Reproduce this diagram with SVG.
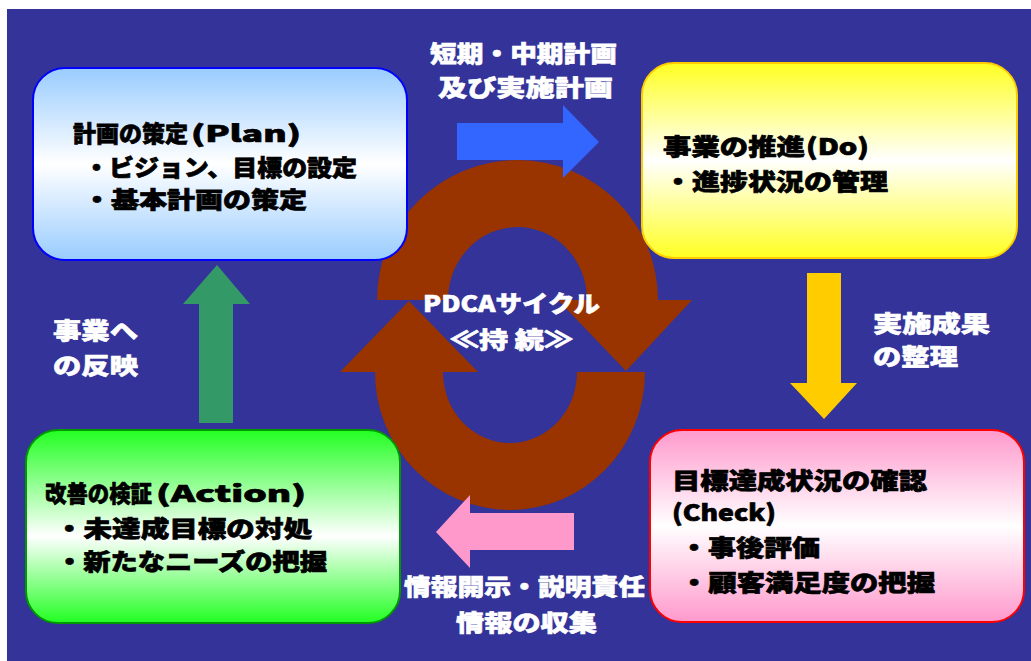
<svg xmlns="http://www.w3.org/2000/svg" width="1031" height="661" viewBox="0 0 1031 661">
<defs>
  <linearGradient id="gPlan" x1="0" y1="0" x2="0" y2="1">
    <stop offset="0" stop-color="#99ccff"/><stop offset="0.5" stop-color="#ffffff"/><stop offset="1" stop-color="#99ccff"/>
  </linearGradient>
  <linearGradient id="gDo" x1="0" y1="0" x2="0" y2="1">
    <stop offset="0" stop-color="#ffff22"/><stop offset="0.5" stop-color="#ffffff"/><stop offset="1" stop-color="#ffff22"/>
  </linearGradient>
  <linearGradient id="gCheck" x1="0" y1="0" x2="0" y2="1">
    <stop offset="0" stop-color="#ff99cc"/><stop offset="0.5" stop-color="#ffffff"/><stop offset="1" stop-color="#ff99cc"/>
  </linearGradient>
  <linearGradient id="gAct" x1="0" y1="0" x2="0" y2="1">
    <stop offset="0" stop-color="#22ff22"/><stop offset="0.55" stop-color="#ffffff"/><stop offset="1" stop-color="#22ff22"/>
  </linearGradient>
</defs>
<style>
  .bt{font-family:"Noto Sans CJK JP","Noto Sans CJK SC",sans-serif;font-weight:900;font-size:23px;fill:#000;stroke:#000;stroke-width:0.7}
  .lb{font-family:"Noto Sans CJK JP","Noto Sans CJK SC",sans-serif;font-weight:900;font-size:23px;fill:#fff;stroke:#fff;stroke-width:0.6}
  .box{stroke-width:2}
  .cyc{fill:#993300}
</style>
<rect x="0" y="0" width="1031" height="661" fill="#ffffff"/>
<rect x="7" y="9" width="1024" height="652" fill="#333399"/>

<g id="cycle">
  <path class="cyc" d="M377,300 A140.5,140 0 0 1 658,300 L587,300 A69.5,73 0 0 0 448,300 Z"/>
  <path class="cyc" d="M558,300 L692,300 L626,371 Z"/>
  <path class="cyc" d="M375,372 A135,138 0 0 0 645,372 L577,372 A67,71 0 0 1 443,372 Z"/>
  <path class="cyc" d="M340,372 L478,372 L409,301 Z"/>
  <text class="lb" x="423" y="312" textLength="177" lengthAdjust="spacingAndGlyphs">PDCAサイクル</text>
  <text class="lb" x="450" y="348" textLength="123" lengthAdjust="spacingAndGlyphs">≪持 続≫</text>
</g>

<g id="connectors">
  <path d="M457,123 H563 V105 L599,142 L563,178 V160 H457 Z" fill="#3366ff"/>
  <path d="M807,273 H841 V383 H857 L824,419 L790,383 H807 Z" fill="#ffcc00"/>
  <path d="M574,513 V550 H470 V568 L436,532 L470,495 V513 Z" fill="#ff99cc"/>
  <path d="M199,423 V304 H183 L217,265 L250,304 H233 V423 Z" fill="#339966"/>
</g>

<g id="labels">
  <text class="lb" x="430" y="62" textLength="187" lengthAdjust="spacingAndGlyphs">短期・中期計画</text>
  <text class="lb" x="438" y="96" textLength="175" lengthAdjust="spacingAndGlyphs">及び実施計画</text>
  <text class="lb" x="873" y="332" textLength="117" lengthAdjust="spacingAndGlyphs">実施成果</text>
  <text class="lb" x="873" y="365" textLength="85" lengthAdjust="spacingAndGlyphs">の整理</text>
  <text class="lb" x="53" y="339" textLength="85" lengthAdjust="spacingAndGlyphs">事業へ</text>
  <text class="lb" x="53" y="374" textLength="85" lengthAdjust="spacingAndGlyphs">の反映</text>
  <text class="lb" x="404" y="595" textLength="241" lengthAdjust="spacingAndGlyphs">情報開示・説明責任</text>
  <text class="lb" x="456" y="631" textLength="141" lengthAdjust="spacingAndGlyphs">情報の収集</text>
</g>

<g id="plan">
  <rect class="box" x="33" y="68" width="374" height="192" rx="32" fill="url(#gPlan)" stroke="#0000ff"/>
  <text class="bt" y="142"><tspan x="73" textLength="115" lengthAdjust="spacingAndGlyphs">計画の策定</tspan><tspan x="191" textLength="110" lengthAdjust="spacingAndGlyphs">(Plan)</tspan></text>
  <text class="bt" x="84" y="176" textLength="273" lengthAdjust="spacingAndGlyphs">・ビジョン、目標の設定</text>
  <text class="bt" x="83" y="208" textLength="224" lengthAdjust="spacingAndGlyphs">・基本計画の策定</text>
</g>

<g id="do">
  <rect class="box" x="642" y="63" width="375" height="195" rx="32" fill="url(#gDo)" stroke="#ffcc00"/>
  <text class="bt" y="155"><tspan x="663" textLength="142" lengthAdjust="spacingAndGlyphs">事業の推進</tspan><tspan x="806" textLength="63" lengthAdjust="spacingAndGlyphs">(Do)</tspan></text>
  <text class="bt" x="664" y="190" textLength="224" lengthAdjust="spacingAndGlyphs">・進捗状況の管理</text>
</g>

<g id="check">
  <rect class="box" x="650" y="430" width="374" height="192" rx="32" fill="url(#gCheck)" stroke="#ff0000"/>
  <text class="bt" x="672" y="489" textLength="255" lengthAdjust="spacingAndGlyphs">目標達成状況の確認</text>
  <text class="bt" x="672" y="521" textLength="104" lengthAdjust="spacingAndGlyphs">(Check)</text>
  <text class="bt" x="680" y="556" textLength="140" lengthAdjust="spacingAndGlyphs">・事後評価</text>
  <text class="bt" x="680" y="591" textLength="255" lengthAdjust="spacingAndGlyphs">・顧客満足度の把握</text>
</g>

<g id="action">
  <rect class="box" x="26" y="430" width="374" height="193" rx="32" fill="url(#gAct)" stroke="#009900"/>
  <text class="bt" y="502"><tspan x="45" textLength="107" lengthAdjust="spacingAndGlyphs">改善の検証</tspan><tspan x="156" textLength="150" lengthAdjust="spacingAndGlyphs">(Action)</tspan></text>
  <text class="bt" x="55" y="537" textLength="257" lengthAdjust="spacingAndGlyphs">・未達成目標の対処</text>
  <text class="bt" x="56" y="570" textLength="271" lengthAdjust="spacingAndGlyphs">・新たなニーズの把握</text>
</g>
</svg>
